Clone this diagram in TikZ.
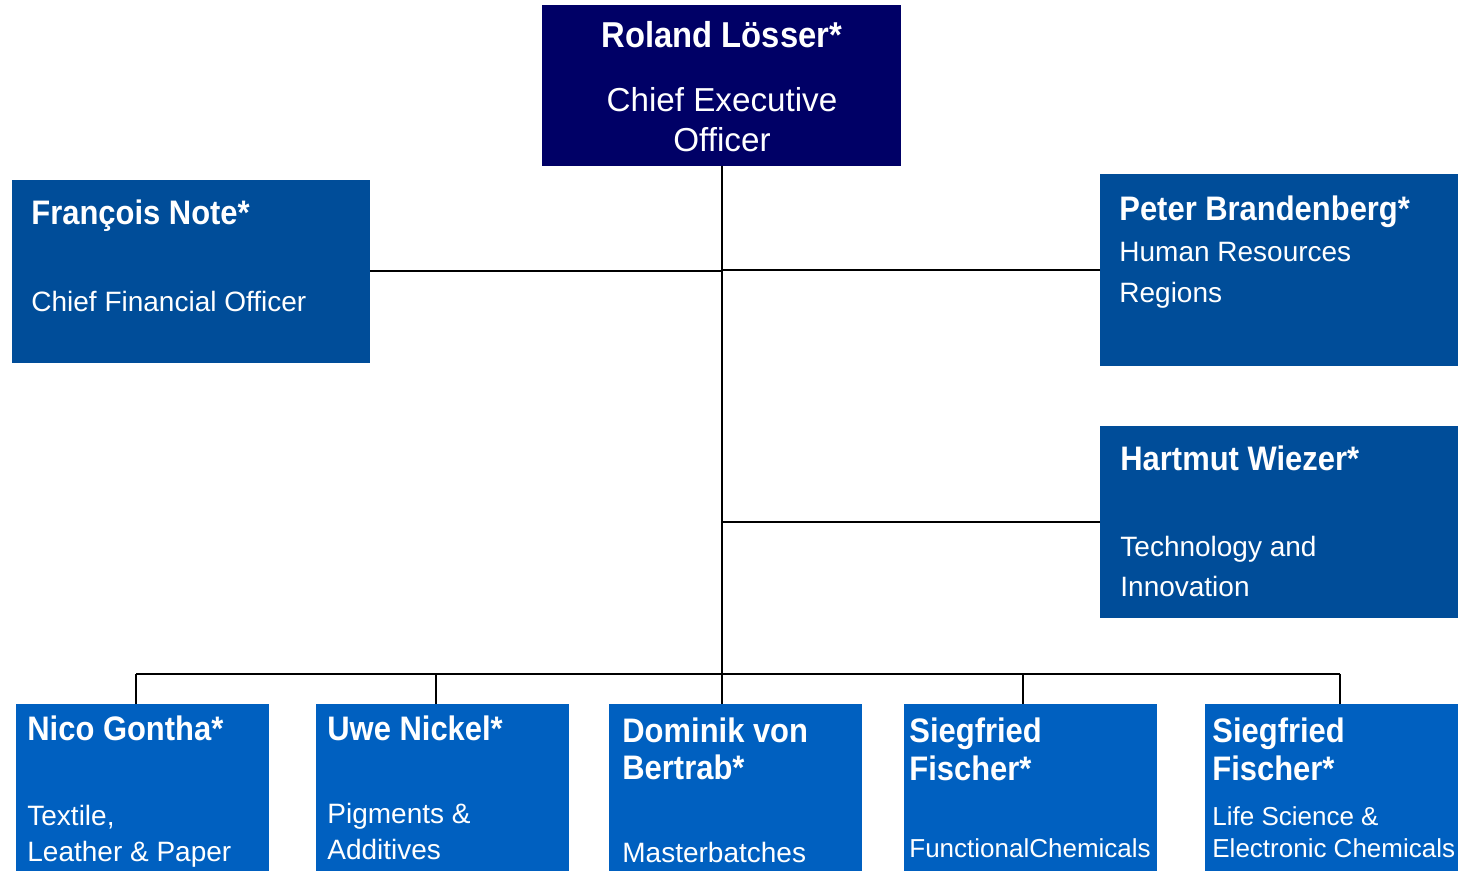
\documentclass[tikz,border=0pt]{standalone}
\usepackage{fontspec}
\setmainfont{Liberation Sans}
\newfontfamily\namefont[FakeStretch=0.91]{Liberation Sans}
\definecolor{ceoblue}{HTML}{000066}
\definecolor{midblue}{HTML}{004D99}
\definecolor{lowblue}{HTML}{0060C0}
\begin{document}
\begin{tikzpicture}[x=0.5pt,y=-0.5pt,
  box/.style={draw=none,inner sep=0pt,outer sep=0pt,anchor=north west},
  topbox/.style={box,fill=ceoblue,minimum width=179.5pt,minimum height=80.5pt},
  midbox/.style={box,fill=midblue,minimum width=179pt,minimum height=96pt},
  lowbox/.style={box,fill=lowblue,minimum width=126.5pt,minimum height=83.5pt},
  nm/.style={font=\namefont\bfseries\fontsize{17}{20}\selectfont,text=white,anchor=base west,inner sep=0pt},
  bignm/.style={nm,font=\namefont\bfseries\fontsize{18}{21}\selectfont,anchor=base},
  role/.style={font=\fontsize{14}{17}\selectfont,text=white,anchor=base west,inner sep=0pt},
  bigrole/.style={role,font=\fontsize{16.6}{19}\selectfont,anchor=base},
  smallrole/.style={role,font=\fontsize{13}{16}\selectfont},
  conn/.style={draw=black,line width=1pt}]
\useasboundingbox (0,0) rectangle (1464,871);

% boxes
\node[topbox] (ceo) at (542,5) {};
\node[midbox,minimum height=91.5pt] (cfo) at (12,180) {};
\node[midbox] (hr) at (1100,174) {};
\node[midbox] (cto) at (1100,426) {};
\node[lowbox] (b1) at (16,704) {};
\node[lowbox] (b2) at (316,704) {};
\node[lowbox] (b3) at (609,704) {};
\node[lowbox] (b4) at (904,704) {};
\node[lowbox] (b5) at (1205,704) {};

% connectors
\coordinate (d1) at (136,674);
\coordinate (d2) at (436,674);
\coordinate (d3) at (722,674);
\coordinate (d4) at (1023,674);
\coordinate (d5) at (1340,674);
\coordinate (top) at (722,166);
\draw[conn] (top) -- (top |- b3.north);
\draw[conn] (cfo.east) -- (cfo.east -| top);
\draw[conn] (hr.west) -- (hr.west -| top);
\draw[conn] (cto.west) -- (cto.west -| top);
\draw[conn] (d1) -- (d5);
\draw[conn] (d1) -- (d1 |- b1.north);
\draw[conn] (d2) -- (d2 |- b2.north);
\draw[conn] (d4) -- (d4 |- b4.north);
\draw[conn] (d5) -- (d5 |- b5.north);

% texts
\node[bignm] (t1) at (722,48) {Roland Lösser*};
\node[bigrole] (t2) at (722,112) {Chief Executive};
\node[bigrole] (t3) at (722,152) {Officer};

\node[nm] (t4) at (31,225) {François Note*};
\node[role] (t5) at (31,312) {Chief Financial Officer};

\node[nm] (t6) at (1119,221) {Peter Brandenberg*};
\node[role] (t7) at (1119,262) {Human Resources};
\node[role] (t8) at (1119,303) {Regions};

\node[nm] (t9) at (1120,471) {Hartmut Wiezer*};
\node[role] (t10) at (1120,557) {Technology and};
\node[role] (t11) at (1120,597) {Innovation};

\node[nm] (t12) at (27,741) {Nico Gontha*};
\node[role] (t13) at (27,826) {Textile,};
\node[role] (t14) at (27,862) {Leather \& Paper};

\node[nm] (t15) at (327,741) {Uwe Nickel*};
\node[role] (t16) at (327,824) {Pigments \&};
\node[role] (t17) at (327,860) {Additives};

\node[nm] (t18) at (622,743) {Dominik von};
\node[nm] (t19) at (622,780) {Bertrab*};
\node[role] (t20) at (622,863) {Masterbatches};

\node[nm] (t21) at (909,743) {Siegfried};
\node[nm] (t22) at (909,781) {Fischer*};
\node[smallrole] (t23) at (909,857) {FunctionalChemicals};

\node[nm] (t24) at (1212,743) {Siegfried};
\node[nm] (t25) at (1212,781) {Fischer*};
\node[smallrole] (t26) at (1212,826) {Life Science \&};
\node[smallrole] (t27) at (1212,857) {Electronic Chemicals};
\end{tikzpicture}
\end{document}
